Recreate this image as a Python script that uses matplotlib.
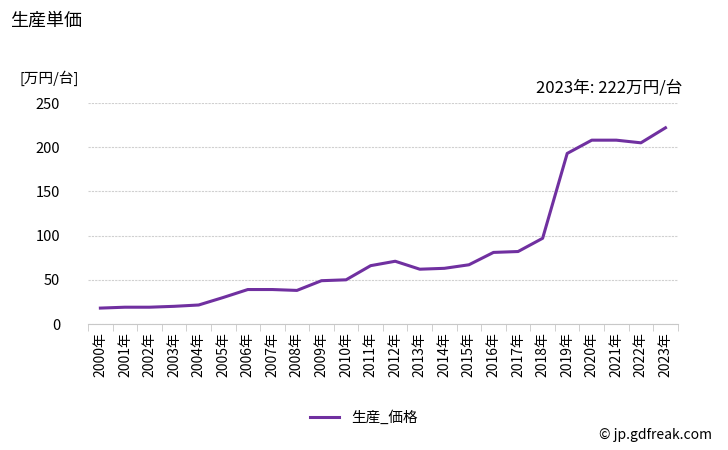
import matplotlib
matplotlib.use('Agg')
import matplotlib.pyplot as plt
import numpy as np

plt.rcParams['font.family'] = ['Noto Sans CJK JP', 'DejaVu Sans']

# データ
years = [f'{y}年' for y in range(2000, 2024)]
price = [18, 19, 19, 20, 21.5, 30, 39, 39, 38, 49, 50, 66, 71, 62, 63, 67,
         81, 82, 97, 193, 208, 208, 205, 222]
y_ticks = [0, 50, 100, 150, 200, 250]

fig = plt.figure(figsize=(7.28, 4.5), dpi=100)
ax = fig.add_axes([0.121, 0.28, 0.81, 0.491])

x = np.arange(len(years))
ax.plot(x, price, color='#7030A0', linewidth=2.2, label='生産_価格')

ax.set_xlim(-0.5, len(years) - 0.5)
ax.set_ylim(0, 250)
ax.set_yticks(y_ticks)
ax.set_xticks(x)
ax.set_xticklabels(years, rotation=90, fontsize=10)
ax.set_xticks(np.arange(-0.5, len(years)), minor=True)
ax.tick_params(axis='x', which='major', length=0, pad=6)
ax.tick_params(axis='x', which='minor', length=5, color='#c8c8c8')
ax.tick_params(axis='y', length=0, labelsize=10.5, pad=20)

ax.grid(axis='y', linestyle=(0, (2, 1)), color='#d0d0d0', linewidth=0.8)
for s in ['top', 'right', 'left']:
    ax.spines[s].set_visible(False)
ax.spines['bottom'].set_color('#c8c8c8')

fig.text(0.014, 0.955, '生産単価', fontsize=13, ha='left', va='center')
fig.text(0.027, 0.826, '[万円/台]', fontsize=10.5, ha='left', va='center')
fig.text(0.937, 0.804, '2023年: 222万円/台', fontsize=12, ha='right', va='center')
fig.text(0.978, 0.033, '© jp.gdfreak.com', fontsize=10, ha='right', va='center')

fig.legend(loc='center', bbox_to_anchor=(0.5, 0.071), frameon=False, fontsize=10.5,
           handlelength=2.0)

fig.savefig('out.png', dpi=100)
